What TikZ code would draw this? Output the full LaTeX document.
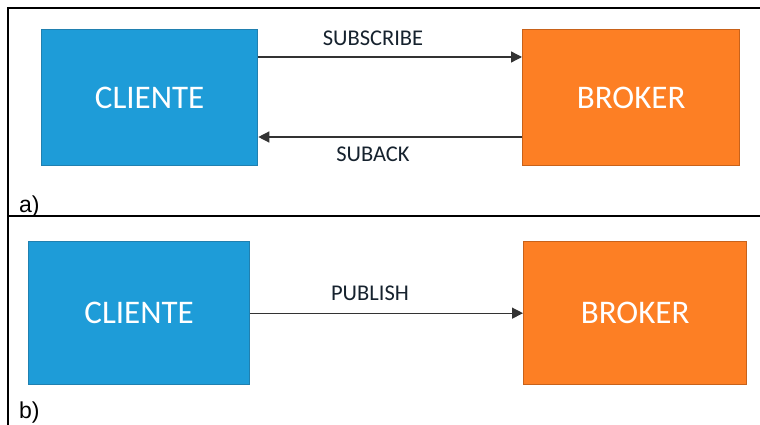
\documentclass[tikz,border=0pt]{standalone}
\usepackage{fontspec}
\setmainfont{Carlito}
\newfontfamily\arialfont{Liberation Sans}
\usetikzlibrary{arrows.meta,calc}
\definecolor{clientblue}{HTML}{1E9CD8}
\definecolor{clientedge}{HTML}{2080B0}
\definecolor{brokerorange}{HTML}{FD7F24}
\definecolor{brokeredge}{HTML}{C8621A}
\definecolor{msgtext}{HTML}{16222E}
\definecolor{arrowgray}{HTML}{333333}
\tikzset{
  x=1pt, y=-1pt,
  block/.style={rectangle, inner sep=0pt, line width=1.3pt, anchor=north west,
    text=white, font=\fontsize{33}{33}\selectfont},
  client/.style={block, fill=clientblue, draw=clientedge},
  broker/.style={block, fill=brokerorange, draw=brokeredge},
  msg/.style={anchor=base, text=msgtext, inner sep=0pt, font=\fontsize{22.5}{22.5}\selectfont},
  flow/.style={draw=arrowgray, line width=1.3pt, -{Triangle[length=11pt,width=11pt]}},
  panel/.style={anchor=base west, inner sep=0pt, font=\arialfont\fontsize{23}{23}\selectfont},
  frame/.style={line width=1.4pt, black}
}
\begin{document}
\begin{tikzpicture}
  \useasboundingbox (0,0) rectangle (760,425);
  \fill[white] (0,0) rectangle (760,425);

  % outer frame and divider between the two panels
  \coordinate (tl) at (8,8);
  \coordinate (tr) at (760,8);
  \coordinate (bl) at (8,425);
  \coordinate (ml) at (8,216);
  \coordinate (mr) at (760,216);
  \draw[frame] (tr) -- (tl) -- (bl);
  \draw[frame] (ml) -- (mr);

  % panel a: subscribe / suback
  \node[client, minimum width=216pt, minimum height=136pt] (cliA) at (41,29) {CLIENTE};
  \node[broker, minimum width=217pt, minimum height=136pt] (broA) at (522,29) {BROKER};
  \draw[flow] ($(cliA.north east)+(0,28)$) -- ($(broA.north west)+(0,28)$);
  \draw[flow] ($(broA.north west)+(0,108)$) -- ($(cliA.north east)+(0,108)$);
  \node[msg] (sub) at (373,46) {SUBSCRIBE};
  \node[msg] (suback) at (373,161) {SUBACK};
  \node[panel] (pa) at (19,212) {a)};

  % panel b: publish
  \node[client, minimum width=221pt, minimum height=143pt] (cliB) at (28,241) {CLIENTE};
  \node[broker, minimum width=223pt, minimum height=143pt] (broB) at (523,241) {BROKER};
  \draw[flow] (cliB.east) -- (broB.west);
  \node[msg] (pub) at (370,300) {PUBLISH};
  \node[panel] (pb) at (19,418) {b)};
\end{tikzpicture}
\end{document}
